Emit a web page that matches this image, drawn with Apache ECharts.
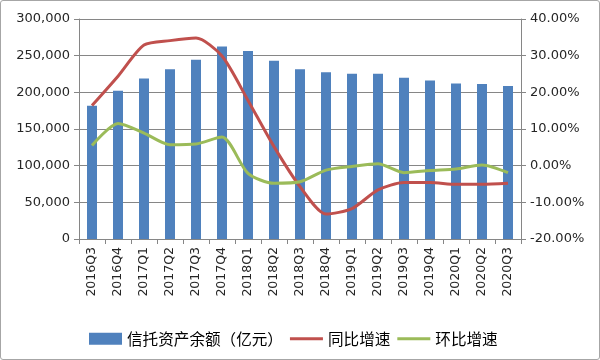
<!DOCTYPE html>
<html>
<head>
<meta charset="utf-8">
<script src="https://cdn.jsdelivr.net/npm/echarts@6/dist/echarts.min.js"></script>
<style>
html,body{margin:0;padding:0;background:#fff;}
#wrap{position:absolute;left:0;top:0;width:598px;height:358px;border:1px solid #a6a6a6;border-radius:3px;}
#chart{width:600px;height:360px;position:absolute;left:0;top:0;}
</style>
</head>
<body>
<div id="wrap"></div>
<div id="chart"></div>
<script>
const categories = ['2016Q3','2016Q4','2017Q1','2017Q2','2017Q3','2017Q4','2018Q1','2018Q2','2018Q3','2018Q4','2019Q1','2019Q2','2019Q3','2019Q4','2020Q1','2020Q2','2020Q3'];
const assets = [181700, 202200, 219000, 231400, 244600, 262500, 256500, 243000, 231400, 227500, 225500, 225500, 219800, 216200, 212000, 211500, 208800];
const yoy = [16.4, 24.4, 32.9, 34.1, 34.8, 29.9, 17.8, 5.2, -5.7, -13.2, -11.7, -6.6, -4.6, -4.6, -5.1, -5.1, -4.8];
const qoq = [5.5, 11.5, 8.9, 5.7, 5.9, 7.8, -2.1, -4.8, -4.4, -1.2, -0.2, 0.5, -1.9, -1.3, -0.9, 0.2, -1.9];
const seriesNames = ['信托资产余额（亿元）', '同比增速', '环比增速'];

const chart = echarts.init(document.getElementById('chart'));
const axisGrey = '#868686';
const font = 'DejaVu Sans';
const lineIcon = 'path://M0,0 M0,4.5 L33,4.5 L33,7.5 L0,7.5 Z M33,12';
chart.setOption({
  animation: false,
  textStyle: {fontFamily: font},
  grid: {left: 79, right: 79, top: 19, bottom: 121},
  legend: {
    left: 84, top: 326,
    itemWidth: 33, itemHeight: 12, itemGap: 7,
    textStyle: {fontFamily: 'Noto Sans CJK SC', fontSize: 15.6, color: '#000', padding: [0,0,0,0]},
    data: [
      {name: seriesNames[0], icon: 'rect'},
      {name: seriesNames[1], icon: lineIcon},
      {name: seriesNames[2], icon: lineIcon}
    ]
  },
  xAxis: {
    type: 'category', data: categories,
    axisLine: {lineStyle: {color: axisGrey}},
    axisTick: {show: true, alignWithLabel: false, length: 5, lineStyle: {color: axisGrey}},
    axisLabel: {rotate: 90, fontSize: 12.5, color: '#262626', margin: 8, interval: 0}
  },
  yAxis: [
    {
      type: 'value', min: 0, max: 300000, interval: 50000,
      axisLine: {show: true, lineStyle: {color: axisGrey}},
      axisTick: {show: true, length: 5, lineStyle: {color: axisGrey}},
      splitLine: {lineStyle: {color: axisGrey}},
      axisLabel: {fontSize: 13, color: '#262626', margin: 9,
        formatter: v => v.toLocaleString('en-US')}
    },
    {
      type: 'value', min: -20, max: 40, interval: 10,
      axisLine: {show: true, lineStyle: {color: axisGrey}},
      axisTick: {show: true, length: 5, lineStyle: {color: axisGrey}},
      splitLine: {show: false},
      axisLabel: {fontSize: 13, color: '#262626', margin: 9,
        formatter: v => v.toFixed(2) + '%'}
    }
  ],
  series: [
    {name: seriesNames[0], type: 'bar', data: assets, barWidth: 10,
     itemStyle: {color: '#4F81BD'}},
    {name: seriesNames[1], type: 'line', yAxisIndex: 1, data: yoy, smooth: 0.25,
     symbol: 'none', lineStyle: {color: '#C0504D', width: 3}, itemStyle: {color: '#C0504D'}},
    {name: seriesNames[2], type: 'line', yAxisIndex: 1, data: qoq, smooth: 0.25,
     symbol: 'none', lineStyle: {color: '#9BBB59', width: 3}, itemStyle: {color: '#9BBB59'}}
  ]
});
</script>
</body>
</html>
